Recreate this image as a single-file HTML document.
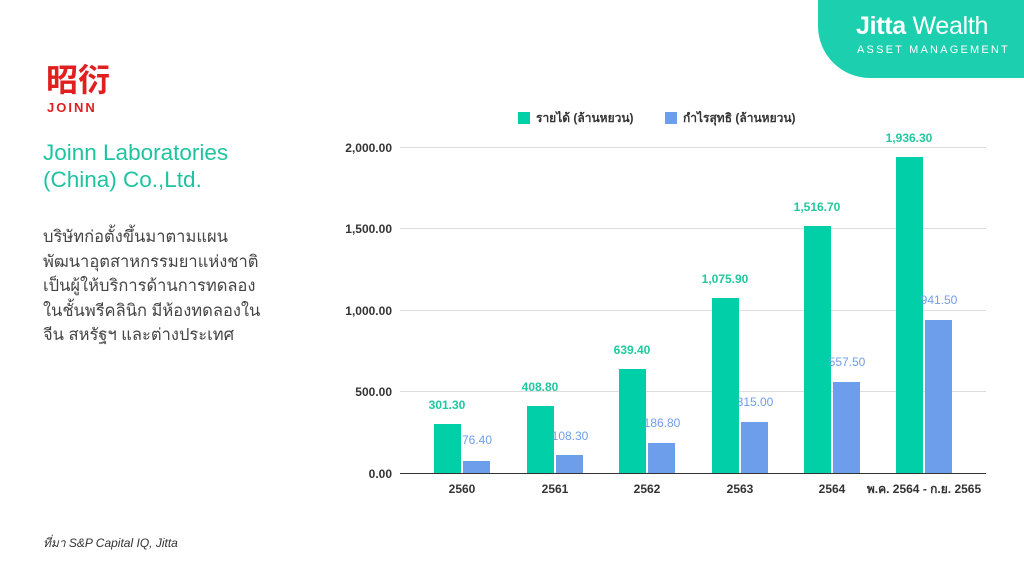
<!DOCTYPE html>
<html><head><meta charset="utf-8"><style>
body{margin:0;width:1024px;height:576px;background:#fff;position:relative;overflow:hidden;font-family:"Liberation Sans","Noto Sans CJK SC",sans-serif}
.badge{position:absolute;left:818px;top:0;width:206px;height:78px;background:#1ccfae;border-bottom-left-radius:52px}
.abs{position:absolute;white-space:nowrap}
</style></head><body>
<div class="badge"></div>
<div class="abs" style="left:856px;top:12px;color:#fff;font-size:25px;letter-spacing:-0.3px"><b>Jitta</b> Wealth</div>
<div class="abs" style="left:857px;top:44px;color:#fff;font-size:11px;letter-spacing:2.2px">ASSET MANAGEMENT</div>
<div class="abs" style="left:46px;top:60px;color:#e02020;font-size:32px;font-weight:bold;font-family:'Noto Sans CJK SC',sans-serif;line-height:36px">昭衍</div>
<div class="abs" style="left:47px;top:100px;color:#e02020;font-size:13px;font-weight:bold;letter-spacing:2px">JOINN</div>
<div class="abs" style="left:43px;top:139px;color:#1fc3a0;font-size:22.5px;line-height:27px">Joinn Laboratories<br>(China) Co.,Ltd.</div>
<div class="abs" style="left:43px;top:225px;color:#444;font-size:16.5px;line-height:24.5px;font-family:'Liberation Sans','Noto Sans CJK SC','DejaVu Sans',sans-serif">บริษัทก่อตั้งขึ้นมาตามแผน<br>พัฒนาอุตสาหกรรมยาแห่งชาติ<br>เป็นผู้ให้บริการด้านการทดลอง<br>ในชั้นพรีคลินิก มีห้องทดลองใน<br>จีน สหรัฐฯ และต่างประเทศ</div>
<div class="abs" style="left:43px;top:534px;color:#333;font-size:12px;font-style:italic;font-family:'Liberation Sans','DejaVu Sans',sans-serif">ที่มา S&amp;P Capital IQ, Jitta</div>
<svg class="abs" style="left:0;top:0" width="1024" height="576" font-family="Liberation Sans, DejaVu Sans, sans-serif">
<g stroke="#ddd" stroke-width="1">
<line x1="400" x2="986" y1="147.5" y2="147.5"/><line x1="400" x2="986" y1="228.5" y2="228.5"/><line x1="400" x2="986" y1="310.5" y2="310.5"/><line x1="400" x2="986" y1="391.5" y2="391.5"/>
</g>
<line x1="400" x2="986" y1="473.5" y2="473.5" stroke="#333"/>
<g font-size="12" font-weight="bold" fill="#333" text-anchor="end">
<text x="392" y="152">2,000.00</text><text x="392" y="233">1,500.00</text><text x="392" y="315">1,000.00</text><text x="392" y="396">500.00</text><text x="392" y="478">0.00</text>
</g>
<rect x="518" y="112" width="12" height="12" fill="#00cfa8"/>
<text x="536" y="122" font-size="12" font-weight="bold" fill="#333">รายได้ (ล้านหยวน)</text>
<rect x="665" y="112" width="12" height="12" fill="#6d9eeb"/>
<text x="683" y="122" font-size="12" font-weight="bold" fill="#333">กำไรสุทธิ (ล้านหยวน)</text>
<g fill="#00cfa8">
<rect x="434" y="424" width="27" height="49"/><rect x="527" y="406" width="27" height="67"/><rect x="619" y="369" width="27" height="104"/><rect x="712" y="298" width="27" height="175"/><rect x="804" y="226" width="27" height="247"/><rect x="896" y="157" width="27" height="316"/>
</g>
<g fill="#6d9eeb">
<rect x="463" y="461" width="27" height="12"/><rect x="556" y="455" width="27" height="18"/><rect x="648" y="443" width="27" height="30"/><rect x="741" y="422" width="27" height="51"/><rect x="833" y="382" width="27" height="91"/><rect x="925" y="320" width="27" height="153"/>
</g>
<g font-size="12" font-weight="bold" fill="#1fc9a0" text-anchor="middle">
<text x="447" y="409">301.30</text><text x="540" y="391">408.80</text><text x="632" y="354">639.40</text><text x="725" y="283">1,075.90</text><text x="817" y="211">1,516.70</text><text x="909" y="142">1,936.30</text>
</g>
<g font-size="12" fill="#6d9eeb" text-anchor="middle">
<text x="477" y="444">76.40</text><text x="570" y="440">108.30</text><text x="662" y="427">186.80</text><text x="755" y="406">315.00</text><text x="847" y="366">557.50</text><text x="939" y="304">941.50</text>
</g>
<g font-size="12" font-weight="bold" fill="#333" text-anchor="middle">
<text x="462" y="493">2560</text><text x="555" y="493">2561</text><text x="647" y="493">2562</text><text x="740" y="493">2563</text><text x="832" y="493">2564</text><text x="924" y="493">พ.ค. 2564 - ก.ย. 2565</text>
</g>
</svg>
</body></html>
